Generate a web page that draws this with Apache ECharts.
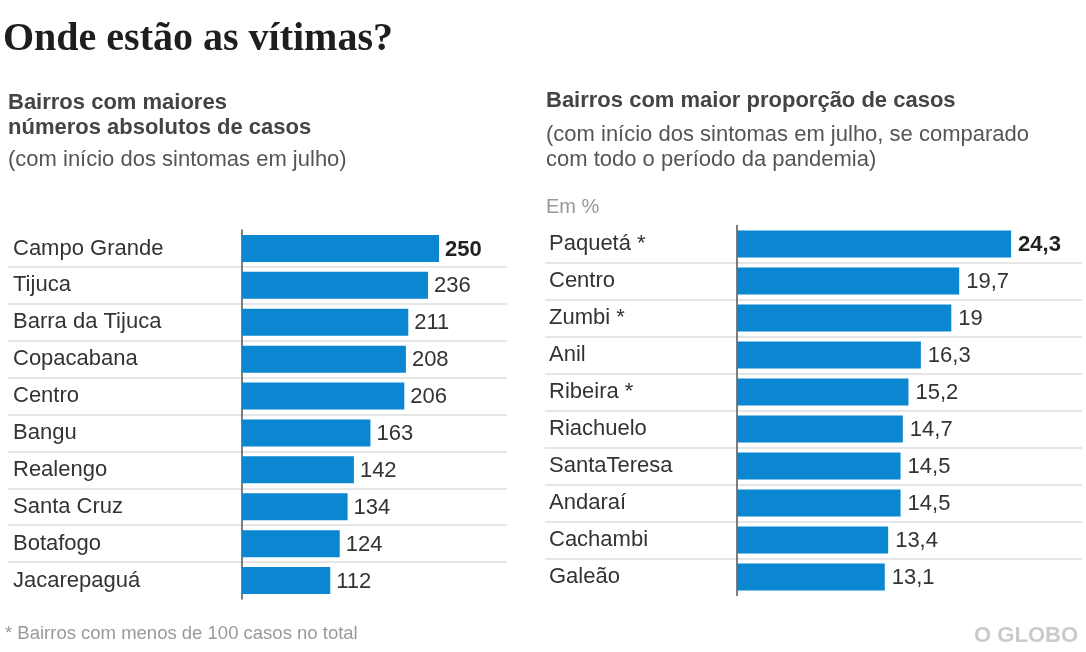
<!DOCTYPE html>
<html>
<head>
<meta charset="utf-8">
<script src="https://cdn.jsdelivr.net/npm/echarts@6/dist/echarts.min.js"></script>
<style>
html,body{margin:0;padding:0;background:#fff;}
#chart{width:1086px;height:652px;}
</style>
</head>
<body>
<div id="chart"></div>
<script>
var leftCategories = ['Campo Grande','Tijuca','Barra da Tijuca','Copacabana','Centro','Bangu','Realengo','Santa Cruz','Botafogo','Jacarepaguá'];
var leftValues = [250,236,211,208,206,163,142,134,124,112];
var rightCategories = ['Paquetá *','Centro','Zumbi *','Anil','Ribeira *','Riachuelo','SantaTeresa','Andaraí','Cachambi','Galeão'];
var rightValues = [24.3,19.7,19,16.3,15.2,14.7,14.5,14.5,13.4,13.1];

var titleText = 'Onde estão as vítimas?';
var leftHeading = ['Bairros com maiores','números absolutos de casos'];
var leftNote = '(com início dos sintomas em julho)';
var rightHeading = 'Bairros com maior proporção de casos';
var rightNote = ['(com início dos sintomas em julho, se comparado','com todo o período da pandemia)'];
var unitText = 'Em %';
var footText = '* Bairros com menos de 100 casos no total';
var logoText = 'O GLOBO';

var SANS = '"Liberation Sans", Arial, sans-serif';
var BAR = '#0a87d0';
var chart = echarts.init(document.getElementById('chart'), null, {renderer:'canvas'});

function fmtLeft(p){ var v = String(p.value); return p.dataIndex === 0 ? '{b|' + v + '}' : '{n|' + v + '}'; }
function fmtRight(p){ var v = String(p.value).replace('.', ','); return p.dataIndex === 0 ? '{b|' + v + '}' : '{n|' + v + '}'; }
var richVals = {
  b:{fontSize:22, fontWeight:'bold', color:'#222', fontFamily:SANS},
  n:{fontSize:22, color:'#333', fontFamily:SANS}
};

function ruleAxis(cats, gridIndex){
  return {type:'category', gridIndex:gridIndex, data:cats, inverse:true,
    axisLine:{show:false}, axisTick:{show:false}, axisLabel:{show:false},
    splitLine:{show:true, showMinLine:false, showMaxLine:false, lineStyle:{color:'#e6e6e6', width:2}}};
}
function barAxis(cats, gridIndex, margin){
  return {type:'category', gridIndex:gridIndex, data:cats, inverse:true,
    axisLine:{show:true, lineStyle:{color:'#555', width:1.5}}, axisTick:{show:false},
    axisLabel:{align:'left', margin:margin, fontSize:22, color:'#333', fontFamily:SANS, padding:[7,0,0,0]},
    splitLine:{show:false}};
}

var option = {
  backgroundColor:'#fff',
  animation:false,
  textStyle:{fontFamily:SANS},
  grid:[
    {left:8, top:230, width:499, height:369},
    {left:242, top:230, width:236.4, height:369},
    {left:545, top:225.5, width:537, height:370},
    {left:737, top:225.5, width:338.4, height:370}
  ],
  xAxis:[
    {type:'value', gridIndex:0, show:false, min:0, max:1},
    {type:'value', gridIndex:1, show:false, min:0, max:300},
    {type:'value', gridIndex:2, show:false, min:0, max:1},
    {type:'value', gridIndex:3, show:false, min:0, max:30}
  ],
  yAxis:[
    ruleAxis(leftCategories, 0),
    barAxis(leftCategories, 1, 229),
    ruleAxis(rightCategories, 2),
    barAxis(rightCategories, 3, 188)
  ],
  series:[
    {type:'bar', xAxisIndex:1, yAxisIndex:1, data:leftValues, barWidth:27,
      itemStyle:{color:BAR},
      label:{show:true, position:'right', distance:6, padding:[2,0,0,0], formatter:fmtLeft, rich:richVals}},
    {type:'bar', xAxisIndex:3, yAxisIndex:3, data:rightValues, barWidth:27,
      itemStyle:{color:BAR},
      label:{show:true, position:'right', distance:7, padding:[2,0,0,0], formatter:fmtRight, rich:richVals}}
  ],
  graphic:[
    {type:'text', left:3, top:20, style:{text:titleText, font:'bold 40px "Liberation Serif", "Times New Roman", serif', fill:'#1e1e1e'}},
    {type:'text', x:8, y:103, style:{text:leftHeading[0], font:'bold 22px ' + SANS, fill:'#444', verticalAlign:'middle'}},
    {type:'text', x:8, y:128, style:{text:leftHeading[1], font:'bold 22px ' + SANS, fill:'#444', verticalAlign:'middle'}},
    {type:'text', x:8, y:160, style:{text:leftNote, font:'22px ' + SANS, fill:'#555', verticalAlign:'middle'}},
    {type:'text', x:546, y:101, style:{text:rightHeading, font:'bold 22px ' + SANS, fill:'#444', verticalAlign:'middle'}},
    {type:'text', x:546, y:135, style:{text:rightNote[0], font:'22px ' + SANS, fill:'#555', verticalAlign:'middle'}},
    {type:'text', x:546, y:160, style:{text:rightNote[1], font:'22px ' + SANS, fill:'#555', verticalAlign:'middle'}},
    {type:'text', x:546, y:207, style:{text:unitText, font:'20px ' + SANS, fill:'#999', verticalAlign:'middle'}},
    {type:'text', x:5, y:634, style:{text:footText, font:'18.5px ' + SANS, fill:'#999', verticalAlign:'middle'}},
    {type:'text', x:1078, y:636, style:{text:logoText, font:'bold 22px ' + SANS, fill:'#cacaca', align:'right', verticalAlign:'middle'}}
  ]
};
chart.setOption(option);
</script>
</body>
</html>
